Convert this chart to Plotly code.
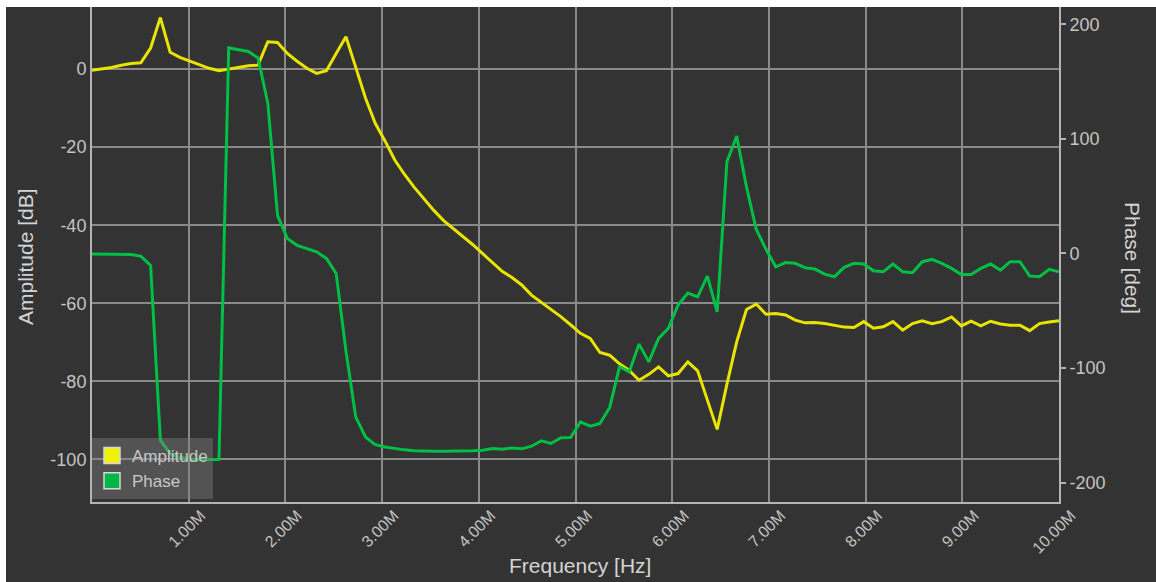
import plotly.graph_objects as go

# ---------------- data ----------------
freq_mhz = [
    0.000, 0.101, 0.202, 0.303, 0.404, 0.505, 0.606, 0.707, 0.808, 0.909,
    1.010, 1.111, 1.212, 1.313, 1.414, 1.515, 1.616, 1.717, 1.818, 1.919,
    2.020, 2.121, 2.222, 2.323, 2.424, 2.525, 2.626, 2.727, 2.828, 2.929,
    3.030, 3.131, 3.232, 3.333, 3.434, 3.535, 3.636, 3.737, 3.838, 3.939,
    4.040, 4.141, 4.242, 4.343, 4.444, 4.545, 4.646, 4.747, 4.848, 4.949,
    5.051, 5.152, 5.253, 5.354, 5.455, 5.556, 5.657, 5.758, 5.859, 5.960,
    6.061, 6.162, 6.263, 6.364, 6.465, 6.566, 6.667, 6.768, 6.869, 6.970,
    7.071, 7.172, 7.273, 7.374, 7.475, 7.576, 7.677, 7.778, 7.879, 7.980,
    8.081, 8.182, 8.283, 8.384, 8.485, 8.586, 8.687, 8.788, 8.889, 8.990,
    9.091, 9.192, 9.293, 9.394, 9.495, 9.596, 9.697, 9.798, 9.899, 10.000,
]

amplitude_db = [
    -0.3, 0.0, 0.4, 1.0, 1.4, 1.6, 5.4, 13.2, 4.3, 3.0,
    2.0, 1.0, 0.2, -0.4, 0.0, 0.4, 0.85, 1.0, 7.0, 6.8,
    4.0, 2.0, 0.2, -1.1, -0.4, 4.0, 8.3, 0.5, -7.4, -13.9,
    -18.4, -23.3, -27.0, -30.3, -33.2, -36.2, -38.8, -40.8, -43.0, -45.0,
    -47.3, -49.6, -51.8, -53.4, -55.3, -57.9, -59.7, -61.6, -63.4, -65.5,
    -67.7, -69.0, -72.6, -73.3, -75.5, -77.2, -79.7, -78.2, -76.3, -78.6,
    -78.0, -75.0, -77.3, -84.8, -92.3, -80.7, -69.9, -61.6, -60.2, -62.8,
    -62.6, -63.0, -64.3, -65.0, -64.9, -65.2, -65.7, -66.1, -66.2, -64.7,
    -66.4, -66.0, -64.7, -66.9, -65.2, -64.5, -65.2, -64.7, -63.5, -65.8,
    -64.6, -65.8, -64.6, -65.3, -65.6, -65.6, -67.0, -65.2, -64.8, -64.5,
]

phase_deg = [
    -0.5, -0.5, -0.6, -0.8, -1.0, -2.5, -10.5, -163.0, -174.7, -178.0,
    -179.5, -180.0, -180.0, -180.0, 179.3, 177.8, 176.2, 170.6, 131.0, 33.0,
    13.0, 7.0, 4.0, 1.4, -4.4, -17.5, -85.0, -142.7, -160.2, -167.0,
    -169.0, -170.5, -171.5, -172.2, -172.7, -172.8, -172.8, -172.8, -172.6, -172.2,
    -171.8, -170.3, -171.0, -169.8, -170.6, -168.3, -163.6, -165.9, -160.9, -160.7,
    -147.1, -150.8, -148.5, -134.5, -99.0, -103.4, -79.2, -94.7, -74.2, -65.5,
    -45.0, -34.7, -37.9, -19.8, -51.0, 80.0, 102.4, 58.0, 21.0, 3.5,
    -11.7, -8.0, -8.7, -12.5, -13.7, -18.1, -20.4, -12.2, -8.7, -9.3,
    -15.2, -16.1, -9.3, -16.1, -16.9, -7.3, -5.3, -8.7, -13.1, -18.4,
    -18.4, -13.1, -9.3, -14.6, -7.3, -7.3, -19.8, -20.4, -14.0, -16.1,
]

x_tick_mhz = [1, 2, 3, 4, 5, 6, 7, 8, 9, 10]
x_tick_labels = ["1.00M", "2.00M", "3.00M", "4.00M", "5.00M",
                 "6.00M", "7.00M", "8.00M", "9.00M", "10.00M"]
amp_ticks = [0, -20, -40, -60, -80, -100]
amp_tick_labels = ["0", "-20", "-40", "-60", "-80", "-100"]
phase_ticks = [200, 100, 0, -100, -200]
phase_tick_labels = ["200", "100", "0", "-100", "-200"]

# ---------------- styling ----------------
YELLOW = "#e8e400"
GREEN = "#00bf45"
BG = "#333333"
GRID = "#8a8a8a"
AXIS = "#b4b4b4"
TICK_TXT = "#c4c4c4"
TITLE_TXT = "#d4d4d4"
FONT = "Liberation Sans, Arial, Helvetica, sans-serif"

freq_hz = [f * 1e6 for f in freq_mhz]
tick_hz = [t * 1e6 for t in x_tick_mhz]

fig = go.Figure()
fig.add_trace(go.Scatter(x=freq_hz, y=amplitude_db, mode="lines", name="Amplitude",
                         line=dict(color=YELLOW, width=3), showlegend=False, yaxis="y"))
fig.add_trace(go.Scatter(x=freq_hz, y=phase_deg, mode="lines", name="Phase",
                         line=dict(color=GREEN, width=3), showlegend=False, yaxis="y2"))
# legend entries shown as square swatches
fig.add_trace(go.Scatter(x=[None], y=[None], mode="markers", name="Amplitude",
                         marker=dict(symbol="square", size=16, color="#f2f200",
                                     line=dict(color="#d8d8d8", width=1.5))))
fig.add_trace(go.Scatter(x=[None], y=[None], mode="markers", name="Phase",
                         marker=dict(symbol="square", size=16, color="#00b848",
                                     line=dict(color="#d8d8d8", width=1.5))))

L, R, T, B = 92, 97, 7, 80
W, H = 1156, 582
pw, ph = W - L - R, H - T - B

fig.update_layout(
    width=W, height=H,
    margin=dict(l=L, r=R, t=T, b=B, pad=0, autoexpand=False),
    paper_bgcolor="white",
    plot_bgcolor=BG,
    font=dict(family=FONT, color=TICK_TXT),
    showlegend=True,
    legend=dict(x=(92 - L) / pw, y=(502 - 438) / ph, xanchor="left", yanchor="top",
                bgcolor="rgba(128,128,128,0.42)", borderwidth=0,
                font=dict(size=17, color="#c8c8c8", family=FONT),
                itemwidth=30, tracegroupgap=0),
    xaxis=dict(range=[0, 1e7], tickvals=tick_hz, ticktext=x_tick_labels, tickangle=-45,
               automargin=False, ticklabelshift=12, ticklabelstandoff=-4,
               showgrid=True, gridcolor=GRID, gridwidth=1.5, zeroline=False,
               showline=True, linecolor=AXIS, linewidth=2, ticks="",
               tickfont=dict(size=16, color=TICK_TXT)),
    yaxis=dict(range=[-110.9, 15.9], tickvals=amp_ticks, ticktext=amp_tick_labels,
               automargin=False, showgrid=True, gridcolor=GRID,
               gridwidth=1.5, zeroline=False, showline=True, linecolor=AXIS, linewidth=2,
               ticks="", tickfont=dict(size=18, color=TICK_TXT)),
    yaxis2=dict(range=[-217, 215], tickvals=phase_ticks, ticktext=phase_tick_labels,
                overlaying="y", side="right", automargin=False,
                showgrid=False, zeroline=False, showline=True, linecolor=AXIS, linewidth=2,
                ticks="outside", ticklen=5, tickwidth=1.5, tickcolor=AXIS,
                tickfont=dict(size=18, color=TICK_TXT)),
    shapes=[dict(type="rect", xref="paper", yref="paper", layer="below",
                 x0=(6 - L) / pw, x1=(W + 10 - L) / pw,
                 y0=-(H + 10 - (T + ph)) / ph, y1=1.0,
                 fillcolor=BG, line=dict(width=0))],
    annotations=[
        dict(text="Frequency [Hz]", xref="paper", yref="paper",
             x=(580 - L) / pw, y=(502 - 565) / ph, showarrow=False,
             font=dict(size=21, color=TITLE_TXT, family=FONT),
             xanchor="center", yanchor="middle"),
        dict(text="Amplitude [dB]", xref="paper", yref="paper",
             x=(25 - L) / pw, y=(502 - 257) / ph, showarrow=False,
             textangle=-90, font=dict(size=21, color=TITLE_TXT, family=FONT),
             xanchor="center", yanchor="middle"),
        dict(text="Phase [deg]", xref="paper", yref="paper",
             x=(1133 - L) / pw, y=(502 - 258) / ph, showarrow=False,
             textangle=90, font=dict(size=21, color=TITLE_TXT, family=FONT),
             xanchor="center", yanchor="middle"),
    ],
)

fig.write_html("out.html", config={"displayModeBar": False},
               post_script="document.body.style.margin='0px';document.body.style.overflow='hidden';")
